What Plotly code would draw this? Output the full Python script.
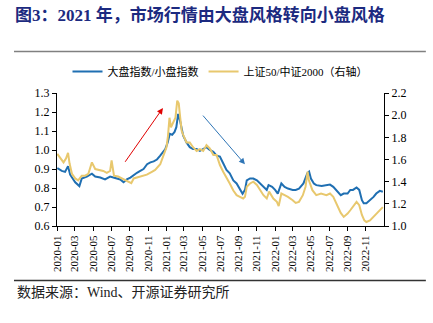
import plotly.graph_objects as go

# ---- data ----
dates_big = [
    "2020-01-02", "2020-01-17", "2020-01-28", "2020-02-07", "2020-02-14", "2020-02-23",
    "2020-03-02", "2020-03-16", "2020-03-24", "2020-04-10", "2020-04-27", "2020-05-08",
    "2020-05-25", "2020-06-10", "2020-06-27", "2020-07-08", "2020-07-19", "2020-07-31",
    "2020-08-11", "2020-08-22", "2020-09-03", "2020-09-14", "2020-09-25", "2020-10-06",
    "2020-10-17", "2020-10-29", "2020-11-09", "2020-11-20", "2020-12-01", "2020-12-12",
    "2020-12-23", "2020-12-29", "2021-01-06", "2021-01-13", "2021-01-21", "2021-01-29",
    "2021-02-04", "2021-02-10", "2021-02-17", "2021-02-22", "2021-02-27", "2021-03-10",
    "2021-03-21", "2021-04-01", "2021-04-13", "2021-04-24", "2021-05-05", "2021-05-16",
    "2021-05-27", "2021-06-08", "2021-06-19", "2021-06-30", "2021-07-11", "2021-07-22",
    "2021-08-02", "2021-08-14", "2021-08-25", "2021-09-05", "2021-09-14", "2021-09-22",
    "2021-09-28", "2021-10-09", "2021-10-20", "2021-11-01", "2021-11-12", "2021-11-23",
    "2021-12-04", "2021-12-10", "2021-12-22", "2022-01-01", "2022-01-10", "2022-01-22",
    "2022-02-02", "2022-02-13", "2022-03-01", "2022-03-11", "2022-03-22", "2022-04-06",
    "2022-04-19", "2022-04-25", "2022-05-01", "2022-05-11", "2022-05-19", "2022-06-06",
    "2022-06-24", "2022-07-04", "2022-07-15", "2022-07-28", "2022-08-09", "2022-08-19",
    "2022-09-01", "2022-09-10", "2022-09-19", "2022-10-01", "2022-10-10", "2022-10-19",
    "2022-10-25", "2022-11-03", "2022-11-15", "2022-11-27", "2022-12-06", "2022-12-18",
    "2022-12-28",
]
ratio_big = [
    0.905, 0.890, 0.885, 0.915, 0.870, 0.845,
    0.830, 0.810, 0.850, 0.860, 0.875, 0.860,
    0.855, 0.845, 0.860, 0.855, 0.850, 0.845,
    0.830, 0.845, 0.855, 0.870, 0.880, 0.890,
    0.900, 0.925, 0.935, 0.940, 0.950, 0.970,
    0.990, 1.005, 1.040, 1.085, 1.080, 1.095,
    1.120, 1.190, 1.150, 1.100, 1.075, 1.040,
    1.015, 1.005, 1.005, 0.995, 1.005, 1.015,
    1.000, 0.990, 0.970, 0.965, 0.930, 0.895,
    0.877, 0.840, 0.824, 0.797, 0.770, 0.790,
    0.840, 0.850, 0.850, 0.840, 0.824, 0.806,
    0.790, 0.815, 0.806, 0.790, 0.770, 0.824,
    0.806, 0.797, 0.790, 0.790, 0.797, 0.824,
    0.877, 0.886, 0.850, 0.824, 0.815, 0.810,
    0.815, 0.818, 0.806, 0.780, 0.762, 0.771,
    0.771, 0.790, 0.790, 0.803, 0.790, 0.736,
    0.720, 0.720, 0.736, 0.753, 0.771, 0.785,
    0.780,
]

dates_sh = [
    "2020-01-02", "2020-01-15", "2020-01-23", "2020-01-31", "2020-02-07", "2020-02-12",
    "2020-02-20", "2020-03-02", "2020-03-12", "2020-03-24", "2020-04-04", "2020-04-15",
    "2020-04-27", "2020-05-08", "2020-05-19", "2020-06-04", "2020-06-16", "2020-06-27",
    "2020-07-02", "2020-07-10", "2020-07-24", "2020-08-11", "2020-08-28", "2020-09-06",
    "2020-09-14", "2020-09-25", "2020-10-11", "2020-10-28", "2020-11-14", "2020-11-25",
    "2020-12-12", "2020-12-23", "2021-01-02", "2021-01-07", "2021-01-12", "2021-01-17",
    "2021-01-24", "2021-02-01", "2021-02-07", "2021-02-12", "2021-02-17", "2021-02-22",
    "2021-02-27", "2021-03-10", "2021-03-21", "2021-04-01", "2021-04-13", "2021-04-24",
    "2021-05-05", "2021-05-16", "2021-05-27", "2021-06-08", "2021-06-19", "2021-06-30",
    "2021-07-11", "2021-07-22", "2021-08-02", "2021-08-14", "2021-08-25", "2021-09-05",
    "2021-09-16", "2021-09-22", "2021-09-28", "2021-10-09", "2021-10-20", "2021-11-01",
    "2021-11-12", "2021-11-23", "2021-12-04", "2021-12-12", "2021-12-26", "2022-01-07",
    "2022-01-13", "2022-01-22", "2022-02-02", "2022-02-13", "2022-03-01", "2022-03-11",
    "2022-03-22", "2022-04-04", "2022-04-13", "2022-04-20", "2022-04-24", "2022-05-06",
    "2022-05-19", "2022-06-04", "2022-06-22", "2022-07-04", "2022-07-15", "2022-07-28",
    "2022-08-09", "2022-08-19", "2022-09-01", "2022-09-10", "2022-09-19", "2022-10-01",
    "2022-10-10", "2022-10-19", "2022-10-27", "2022-11-03", "2022-11-15", "2022-11-27",
    "2022-12-06", "2022-12-18", "2022-12-28",
]
ratio_sh = [
    1.651, 1.609, 1.574, 1.609, 1.660, 1.566,
    1.471, 1.429, 1.411, 1.454, 1.454, 1.471,
    1.574, 1.514, 1.506, 1.497, 1.480, 1.497,
    1.591, 1.454, 1.446, 1.420, 1.403, 1.386,
    1.429, 1.437, 1.446, 1.463, 1.489, 1.506,
    1.557, 1.634, 1.711, 1.814, 1.977, 1.891,
    1.934, 1.977, 2.131, 2.106, 1.977, 1.857,
    1.823, 1.754, 1.754, 1.711, 1.677, 1.694,
    1.677, 1.729, 1.700, 1.640, 1.640, 1.550,
    1.490, 1.430, 1.384, 1.320, 1.278, 1.263,
    1.248, 1.263, 1.354, 1.384, 1.400, 1.370,
    1.320, 1.278, 1.248, 1.310, 1.248, 1.218,
    1.180, 1.293, 1.278, 1.263, 1.233, 1.208,
    1.218, 1.278, 1.354, 1.490, 1.414, 1.323,
    1.278, 1.293, 1.278, 1.293, 1.263, 1.180,
    1.118, 1.082, 1.112, 1.142, 1.178, 1.218,
    1.188, 1.100, 1.051, 1.036, 1.051, 1.082,
    1.112, 1.142, 1.170,
]

tick_vals = ["2020-01-01", "2020-03-01", "2020-05-01", "2020-07-01", "2020-09-01", "2020-11-01",
             "2021-01-01", "2021-03-01", "2021-05-01", "2021-07-01", "2021-09-01", "2021-11-01",
             "2022-01-01", "2022-03-01", "2022-05-01", "2022-07-01", "2022-09-01", "2022-11-01"]
tick_text = ["2020-01", "2020-03", "2020-05", "2020-07", "2020-09", "2020-11",
             "2021-01", "2021-03", "2021-05", "2021-07", "2021-09", "2021-11",
             "2022-01", "2022-03", "2022-05", "2022-07", "2022-09", "2022-11"]

name_big = "大盘指数/小盘指数"
name_sh = "上证50/中证2000（右轴）"
title_text = "图3：2021 年，市场行情由大盘风格转向小盘风格"
source_text = "数据来源：Wind、开源证券研究所"

# arrows (data coordinates: start -> end)
red_arrow = ("2020-08-13", 0.93, "2020-12-21", 1.221)
blue_arrow = ("2021-04-30", 1.189, "2021-09-22", 0.925)

SERIF = "Liberation Serif, Noto Sans CJK SC, serif"
CJK = "Liberation Serif, Noto Sans CJK SC, sans-serif"

fig = go.Figure()
fig.add_trace(go.Scatter(x=dates_big, y=ratio_big, name=name_big, mode="lines",
                         line=dict(color="#1f6fb2", width=2)))
fig.add_trace(go.Scatter(x=dates_sh, y=ratio_sh, name=name_sh, mode="lines", yaxis="y2",
                         line=dict(color="#e8c86e", width=2)))

axis_common = dict(showgrid=False, zeroline=False, showline=True, linecolor="black",
                   linewidth=1, ticks="outside", ticklen=4, tickcolor="black",
                   tickfont=dict(family=SERIF, size=12, color="black"))

fig.update_layout(
    width=433, height=323,
    margin=dict(l=57, r=49, t=93, b=97),
    paper_bgcolor="white", plot_bgcolor="white",
    showlegend=True,
    legend=dict(orientation="h", x=0.5, xanchor="center", y=1.161, yanchor="middle",
                font=dict(family=CJK, size=11, color="black"), itemwidth=30,
                bgcolor="rgba(0,0,0,0)", traceorder="normal"),
    title=dict(text="<b>" + title_text + "</b>", xref="container", yref="container",
               x=15 / 433, xanchor="left", y=1 - 15 / 323, yanchor="middle",
               font=dict(family=CJK, size=17, color="#1c2a80")),
    xaxis=dict(type="date", range=["2020-01-01", "2023-01-01"], tickmode="array",
               tickvals=tick_vals, ticktext=tick_text, tickangle=-90,
               **{**axis_common, "tickfont": dict(family=SERIF, size=11, color="black")}),
    yaxis=dict(range=[0.6, 1.3], dtick=0.1, tickformat=".1f", **axis_common),
    yaxis2=dict(range=[1.0, 2.2], dtick=0.2, tickformat=".1f", overlaying="y",
                side="right", **axis_common),
)

# horizontal rules
fig.add_shape(type="line", xref="paper", yref="paper", x0=-0.1315, x1=1.128,
              y0=1.312, y1=1.312, line=dict(color="#808080", width=1.5))
fig.add_shape(type="line", xref="paper", yref="paper", x0=-0.1315, x1=1.128,
              y0=-0.41, y1=-0.41, line=dict(color="#333333", width=1.5))

# source note
fig.add_annotation(text=source_text, xref="paper", yref="paper", x=-0.128, y=-0.50,
                   xanchor="left", yanchor="middle", showarrow=False,
                   font=dict(family=CJK, size=14, color="#222222"))

# arrows
for (x0, y0, x1, y1), col in ((red_arrow, "#e00000"), (blue_arrow, "#2e75b6")):
    fig.add_annotation(x=x1, y=y1, ax=x0, ay=y0, xref="x", yref="y", axref="x", ayref="y",
                       text="", showarrow=True, arrowhead=2, arrowsize=1.2, arrowwidth=1,
                       arrowcolor=col)

fig.write_html("out.html")
